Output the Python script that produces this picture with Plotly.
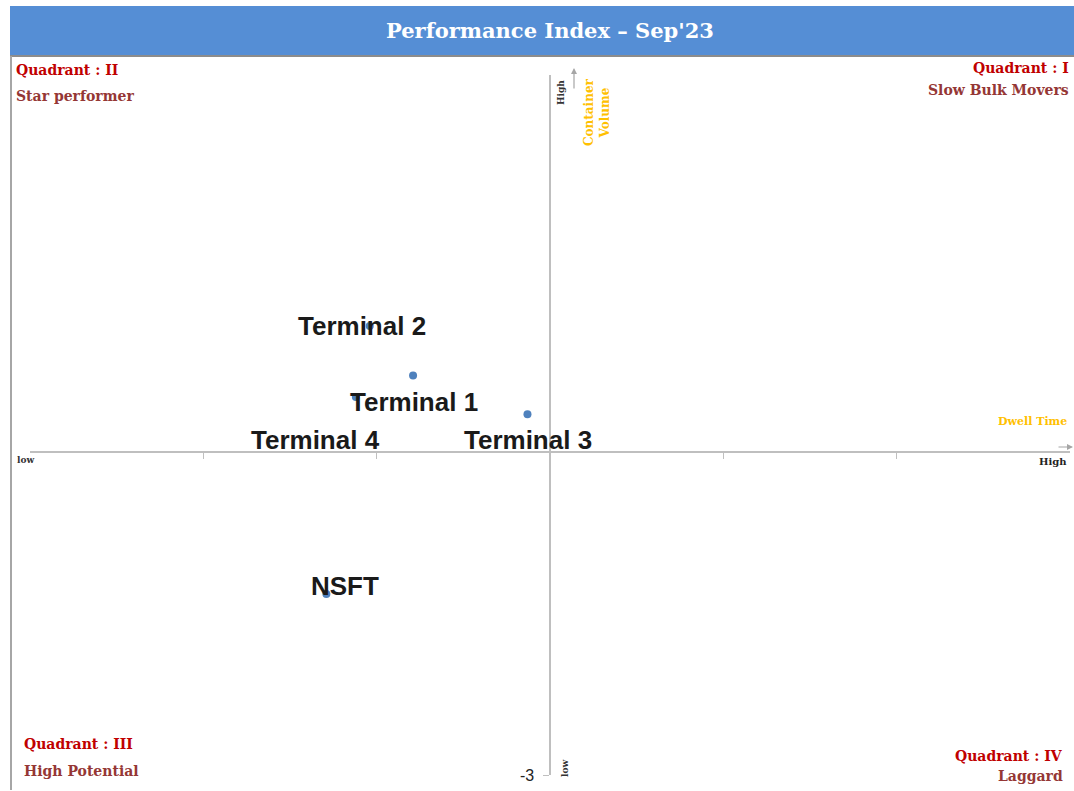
import plotly.graph_objects as go

# ---------------- data ----------------
terminals = ["Terminal 1", "Terminal 2", "Terminal 3", "Terminal 4", "NSFT"]
dwell_time = [-0.79, -1.04, -0.13, -1.12, -1.29]
container_volume = [0.71, 1.17, 0.35, 0.51, -1.32]

x_range = [-3, 3]
y_range = [-3, 3.5]
x_tickvals = [-2, -1, 1, 2]
y_tickvals = [-3]
y_ticktext = ["-3"]

title_text = "Performance Index – Sep'23"

# label offsets in pixels (dx right, dy down)
label_dx = [1, -8, 1, -40, 19]
label_dy = [27, 0, 26, 43, -8]

W, H = 1074, 791


def px(x):
    return x / W


def py(y):
    return 1 - y / H


x_dom = [px(30), px(1070)]
y_dom = [py(775), py(75)]


def xpaper(v):
    return x_dom[0] + (v - x_range[0]) / (x_range[1] - x_range[0]) * (x_dom[1] - x_dom[0])


def ypaper(v):
    return y_dom[0] + (v - y_range[0]) / (y_range[1] - y_range[0]) * (y_dom[1] - y_dom[0])


fig = go.Figure()
fig.add_trace(go.Scatter(
    x=dwell_time, y=container_volume, mode="markers",
    marker=dict(color="#4F81BD", size=8),
    hovertext=terminals, showlegend=False, cliponaxis=False,
))

ann = []
for name, xv, yv, dx, dy in zip(terminals, dwell_time, container_volume, label_dx, label_dy):
    ann.append(dict(x=xv, y=yv, xref="x", yref="y", text="<b>" + name + "</b>",
                    showarrow=False, xshift=dx, yshift=-dy, yanchor="middle",
                    font=dict(family="Liberation Sans", size=26, color="#1a1a1a")))

# y tick labels drawn as annotations at their tick values
for tv, tt in zip(y_tickvals, y_ticktext):
    ann.append(dict(x=0, y=tv, xref="x", yref="y", text=tt, showarrow=False,
                    xanchor="right", yanchor="middle", xshift=-14,
                    font=dict(family="Liberation Sans", size=16, color="#222222")))

serif = "DejaVu Serif"
red = "#C00000"
dred = "#953735"
orange = "#FFC000"

# title
ann.append(dict(x=px(550), y=py(31), xref="paper", yref="paper", text="<b>" + title_text + "</b>",
                showarrow=False, yanchor="middle", font=dict(family=serif, size=21, color="white")))

quad = [
    ("Quadrant : II", 14, 70, "left", red),
    ("Star performer", 14, 96, "left", dred),
    ("Quadrant : I", 1071, 68, "right", red),
    ("Slow Bulk Movers", 1071, 90, "right", dred),
    ("Quadrant : III", 22, 744, "left", red),
    ("High Potential", 22, 771, "left", dred),
    ("Quadrant : IV", 1065, 756, "right", red),
    ("Laggard", 1065, 776, "right", dred),
]
for t, x, y, anc, c in quad:
    ann.append(dict(x=px(x), y=py(y), xref="paper", yref="paper", text="<b>" + t + "</b>",
                    showarrow=False, xanchor=anc, yanchor="middle",
                    font=dict(family=serif, size=14, color=c)))

dark = "#333333"
# axis captions
ann.append(dict(x=px(561), y=py(93), xref="paper", yref="paper", text="<b>High</b>", textangle=-90,
                showarrow=False, yanchor="middle", font=dict(family=serif, size=9, color=dark)))
ann.append(dict(x=px(565), y=py(769), xref="paper", yref="paper", text="<b>low</b>", textangle=-90,
                showarrow=False, yanchor="middle", font=dict(family=serif, size=9, color=dark)))
ann.append(dict(x=px(597), y=py(112), xref="paper", yref="paper", text="<b>Container<br>Volume</b>",
                textangle=-90, showarrow=False, yanchor="middle",
                font=dict(family=serif, size=12, color=orange)))
ann.append(dict(x=px(15), y=py(460), xref="paper", yref="paper", text="<b>low</b>", xanchor="left",
                showarrow=False, yanchor="middle", font=dict(family=serif, size=9, color=dark)))
ann.append(dict(x=px(1069), y=py(461), xref="paper", yref="paper", text="<b>High</b>", xanchor="right",
                showarrow=False, yanchor="middle", font=dict(family=serif, size=10, color="#222222")))
ann.append(dict(x=px(1069), y=py(421), xref="paper", yref="paper", text="<b>Dwell Time</b>", xanchor="right",
                showarrow=False, yanchor="middle", font=dict(family=serif, size=11, color=orange)))
# arrows
ann.append(dict(x=px(574), y=py(68), xref="paper", yref="paper", ax=0, ay=22, axref="pixel", ayref="pixel",
                showarrow=True, arrowhead=2, arrowsize=1, arrowwidth=1.2, arrowcolor="#A6A6A6", text=""))
ann.append(dict(x=px(1073), y=py(447), xref="paper", yref="paper", ax=-16, ay=0, axref="pixel", ayref="pixel",
                showarrow=True, arrowhead=2, arrowsize=1, arrowwidth=1.2, arrowcolor="#A6A6A6", text=""))

shapes = [
    dict(type="rect", xref="paper", yref="paper", x0=px(10), x1=1, y0=py(56), y1=py(6),
         fillcolor="#558ED5", line=dict(width=0), layer="below"),
    dict(type="line", xref="paper", yref="paper", x0=px(10), x1=1, y0=py(56), y1=py(56),
         line=dict(color="#8C8C8C", width=2)),
    dict(type="line", xref="paper", yref="paper", x0=px(11), x1=px(11), y0=py(56), y1=py(790),
         line=dict(color="#A6A6A6", width=2)),
]

fig.update_layout(
    width=W, height=H, autosize=False,
    margin=dict(l=0, r=0, t=0, b=0),
    paper_bgcolor="white", plot_bgcolor="white",
    annotations=ann, shapes=shapes,
    xaxis=dict(range=x_range, domain=x_dom, anchor="free", position=ypaper(0),
               showline=True, linecolor="#BFBFBF", linewidth=2,
               ticks="outside", ticklen=6, tickcolor="#BFBFBF", tickwidth=1,
               tickvals=x_tickvals, showticklabels=False, showgrid=False, zeroline=False,
               fixedrange=True),
    yaxis=dict(range=y_range, domain=y_dom, anchor="free", position=xpaper(0),
               showline=True, linecolor="#BFBFBF", linewidth=2,
               ticks="outside", ticklen=6, tickcolor="#BFBFBF", tickwidth=1,
               tickvals=y_tickvals, showticklabels=False,
               showgrid=False, zeroline=False, fixedrange=True),
)

post = "document.body.style.margin='0';document.body.style.overflow='hidden';"
fig.write_html("out.html", config={"responsive": False, "displayModeBar": False}, post_script=post)
